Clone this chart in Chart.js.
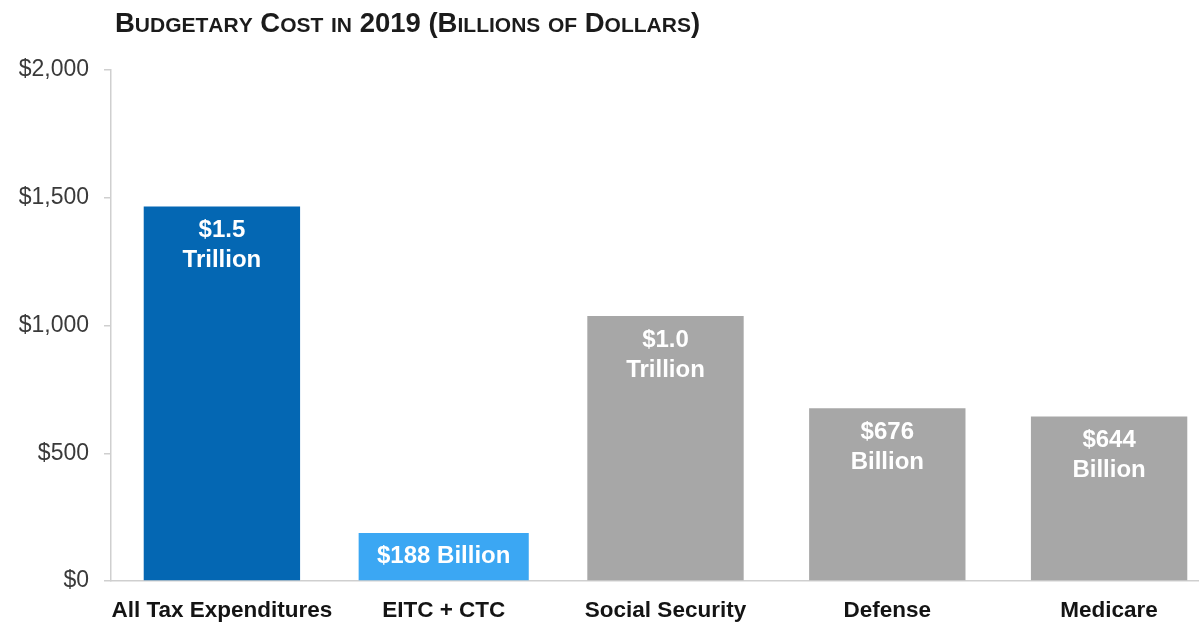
<!DOCTYPE html>
<html>
<head>
<meta charset="utf-8">
<title>Budgetary Cost in 2019</title>
<script src="https://cdn.jsdelivr.net/npm/chart.js@4.4.1/dist/chart.umd.min.js"></script>
<style>
  html, body { margin: 0; padding: 0; background: #fff; overflow: hidden; }
  #wrap { position: relative; width: 1220px; height: 628px; }
</style>
</head>
<body>
<div id="wrap"><canvas id="chart"></canvas></div>
<script>
// Budgetary cost in 2019, billions of dollars
const categories = ['All Tax Expenditures', 'EITC + CTC', 'Social Security', 'Defense', 'Medicare'];
const costs = [1466, 188, 1037, 676, 644];
const barColors = ['#0467b3', '#3ba7f3', '#a7a7a7', '#a7a7a7', '#a7a7a7'];
const yTicks = [0, 500, 1000, 1500, 2000];
const titleText = 'Budgetary Cost in 2019 (Billions of Dollars)';

const NARROW = '"Liberation Sans Narrow", "Liberation Sans", Arial, sans-serif';
const REGULAR = '"Liberation Sans", Arial, sans-serif';

// EITC + CTC bar is drawn a bit wider so its one-line label fits
const WIDE = 1;

function labelLines(v) {
    if (v >= 1000) return ['$' + (v / 1000).toFixed(1), 'Trillion'];
    return ['$' + v, 'Billion'];
}

// Title in small caps: capitals full size, lower case letters as smaller capitals
const smallCapsTitle = {
    id: 'smallCapsTitle',
    afterDraw(chart) {
        const ctx = chart.ctx;
        let x = 115;
        const y = 32;
        ctx.save();
        ctx.fillStyle = '#1b1b1b';
        ctx.textBaseline = 'alphabetic';
        ctx.textAlign = 'left';
        for (const ch of titleText) {
            const small = ch !== ch.toUpperCase();
            ctx.font = 'bold ' + (small ? 21 : 27.5) + 'px ' + NARROW;
            const c = ch.toUpperCase();
            ctx.fillText(c, x, y);
            x += ctx.measureText(c).width;
        }
        ctx.restore();
    }
};

// White value labels inside the bars
const valueLabels = {
    id: 'valueLabels',
    afterDatasetsDraw(chart) {
        const ctx = chart.ctx;
        ctx.save();
        ctx.fillStyle = '#ffffff';
        ctx.textAlign = 'center';
        ctx.textBaseline = 'middle';
        ctx.font = 'bold 24px ' + NARROW;
        chart.data.datasets.forEach((ds, di) => {
            chart.getDatasetMeta(di).data.forEach((bar, i) => {
                const v = ds.data[i];
                if (v == null) return;
                const lines = labelLines(v);
                if (bar.base - bar.y < 80) {
                    ctx.fillText(lines.join(' '), bar.x, (bar.y + bar.base) / 2);
                } else {
                    ctx.fillText(lines[0], bar.x, bar.y + 24);
                    ctx.fillText(lines[1], bar.x, bar.y + 54);
                }
            });
        });
        ctx.restore();
    }
};

const ctx = document.getElementById('chart').getContext('2d');

const chart = new Chart(ctx, {
    type: 'bar',
    data: {
        labels: categories,
        datasets: [{
            data: costs.map((v, i) => i === WIDE ? null : v),
            backgroundColor: barColors,
            barPercentage: 0.705,
            categoryPercentage: 1
        }, {
            data: costs.map((v, i) => i === WIDE ? v : null),
            backgroundColor: barColors,
            barPercentage: 0.767,
            categoryPercentage: 1
        }]
    },
    options: {
        responsive: true,
        maintainAspectRatio: false,
        animation: false,
        grouped: false,
        layout: { padding: { top: 70, left: 0, right: 0, bottom: 0 } },
        plugins: {
            legend: { display: false },
            tooltip: { enabled: false },
            title: { display: false }
        },
        scales: {
            x: {
                grid: { display: false, drawTicks: false },
                border: { display: true, color: '#cfcfcf', width: 1.5 },
                ticks: {
                    color: '#141414',
                    font: { family: NARROW, size: 22.5, weight: 'bold' },
                    padding: 16,
                    maxRotation: 0,
                    autoSkip: false
                },
                afterFit(scale) { scale.height = 47; }
            },
            y: {
                min: 0,
                max: 2000,
                afterBuildTicks(scale) {
                    scale.ticks = yTicks.map(v => ({ value: v }));
                },
                grid: {
                    drawOnChartArea: false,
                    drawTicks: true,
                    tickLength: 7,
                    color: '#cfcfcf',
                    lineWidth: 1.5
                },
                border: { display: true, color: '#cfcfcf', width: 1.5 },
                ticks: {
                    color: '#3a3a3a',
                    font: { family: REGULAR, size: 23 },
                    padding: 15,
                    callback: v => '$' + v.toLocaleString('en-US')
                },
                afterFit(scale) { scale.width = 111; }
            }
        }
    },
    plugins: [smallCapsTitle, valueLabels]
});
</script>
</body>
</html>
